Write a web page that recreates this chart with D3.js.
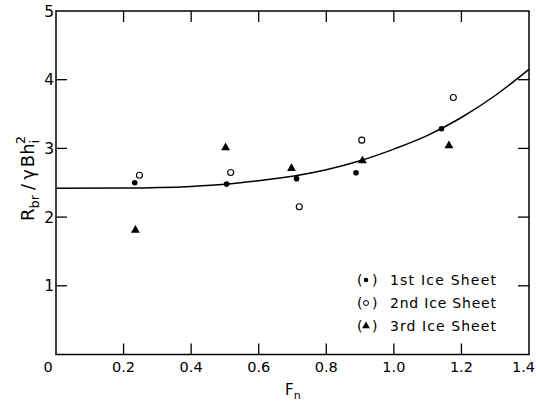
<!DOCTYPE html>
<html><head><meta charset="utf-8">
<script src="https://cdn.jsdelivr.net/npm/d3@7"></script>
<style>body{margin:0;background:#fff}svg{display:block}</style>
</head><body>
<script>
// Breaking resistance ratio versus Froude number, three ice sheets
const sheet1X = [0.233, 0.505, 0.712, 0.888, 1.141];
const sheet1Y = [2.50, 2.48, 2.56, 2.645, 3.285];
const sheet2X = [0.247, 0.517, 0.720, 0.905, 1.176];
const sheet2Y = [2.61, 2.65, 2.15, 3.12, 3.74];
const sheet3X = [0.235, 0.502, 0.697, 0.907, 1.163];
const sheet3Y = [1.81, 3.01, 2.71, 2.82, 3.04];
// fitted trend line
const curveX = [0, 0.2, 0.4, 0.5, 0.6, 0.7, 0.8, 0.9, 1.0, 1.1, 1.2, 1.3, 1.4];
const curveY = [2.42, 2.423, 2.447, 2.477, 2.53, 2.595, 2.69, 2.82, 2.99, 3.19, 3.45, 3.77, 4.15];
const xTicks = [0.2, 0.4, 0.6, 0.8, 1.0, 1.2, 1.4];
const xTickLabels = ["0.2", "0.4", "0.6", "0.8", "1.0", "1.2", "1.4"];
const yTicks = [1, 2, 3, 4, 5];
const legendLabels = ["1st Ice Sheet", "2nd Ice Sheet", "3rd Ice Sheet"];

(function draw() {
  const W = 536, H = 407;
  const svg = d3.select("body").append("svg").attr("width", W).attr("height", H);
  const FONT = "DejaVu Sans, Verdana, sans-serif";

  const x = d3.scaleLinear().domain([0, 1.4]).range([56, 529]);
  const y = d3.scaleLinear().domain([0, 5]).range([354.5, 11]);
  const x0 = x(0), x1 = x(1.4), y1 = y(5), y0 = y(0);
  const TL = 11;

  // frame
  svg.append("rect").attr("x", x0).attr("y", y1).attr("width", x1 - x0).attr("height", y0 - y1)
    .attr("fill", "none").attr("stroke", "#000").attr("stroke-width", 1.5);

  // inward ticks on all four sides
  const tickG = svg.append("g").attr("stroke", "#000").attr("stroke-width", 1.3);
  xTicks.slice(0, -1).forEach(t => {
    tickG.append("line").attr("x1", x(t)).attr("x2", x(t)).attr("y1", y0).attr("y2", y0 - TL);
    tickG.append("line").attr("x1", x(t)).attr("x2", x(t)).attr("y1", y1).attr("y2", y1 + TL);
  });
  yTicks.slice(0, -1).forEach(t => {
    tickG.append("line").attr("x1", x0).attr("x2", x0 + TL).attr("y1", y(t)).attr("y2", y(t));
    tickG.append("line").attr("x1", x1).attr("x2", x1 - TL).attr("y1", y(t)).attr("y2", y(t));
  });

  // tick labels
  const lab = svg.append("g").attr("font-family", FONT).attr("fill", "#000");
  xTicks.forEach((t, i) => {
    const last = i === xTicks.length - 1;
    lab.append("text").attr("x", last ? 535 : x(t)).attr("y", 372).attr("font-size", 14.5)
      .attr("text-anchor", last ? "end" : "middle").text(xTickLabels[i]);
  });
  lab.append("text").attr("x", 48).attr("y", 372).attr("font-size", 14.5).attr("text-anchor", "middle").text("0");
  yTicks.forEach(t => {
    lab.append("text").attr("x", 54).attr("y", y(t) + 5.5).attr("font-size", 15.5).attr("text-anchor", "end").text(String(t));
  });

  // axis titles
  const xt = svg.append("text").attr("x", 285).attr("y", 395).attr("font-family", FONT).attr("font-size", 15);
  xt.append("tspan").text("F");
  xt.append("tspan").attr("font-size", 11).attr("dy", 4).text("n");

  const yt = svg.append("text").attr("transform", "translate(34,221) rotate(-90)")
    .attr("font-family", FONT).attr("font-size", 18);
  yt.append("tspan").text("R");
  yt.append("tspan").attr("font-size", 13).attr("dy", 4.5).text("br");
  yt.append("tspan").attr("dx", 5).attr("dy", -4.5).text("/");
  yt.append("tspan").attr("dx", 4).text("\u03B3");
  yt.append("tspan").attr("dx", 2).text("Bh");
  yt.append("tspan").attr("font-size", 13).attr("dy", 4.5).text("i");
  yt.append("tspan").attr("font-size", 13).attr("dx", -4.5).attr("dy", -14).text("2");

  // trend curve
  const line = d3.line().x((d, i) => x(curveX[i])).y((d, i) => y(curveY[i])).curve(d3.curveMonotoneX);
  svg.append("path").datum(curveY).attr("d", line).attr("fill", "none").attr("stroke", "#000").attr("stroke-width", 1.5);

  // markers
  const tri = d3.symbol(d3.symbolTriangle, 34);
  svg.append("g").selectAll("circle").data(sheet1X).join("circle")
    .attr("cx", d => x(d)).attr("cy", (d, i) => y(sheet1Y[i])).attr("r", 2.8).attr("fill", "#000");
  svg.append("g").selectAll("circle").data(sheet2X).join("circle")
    .attr("cx", d => x(d)).attr("cy", (d, i) => y(sheet2Y[i])).attr("r", 3).attr("fill", "#fff")
    .attr("stroke", "#000").attr("stroke-width", 1.1);
  svg.append("g").selectAll("path").data(sheet3X).join("path")
    .attr("d", tri).attr("transform", (d, i) => `translate(${x(d)},${y(sheet3Y[i])})`).attr("fill", "#000");

  // legend
  const legY = [280, 303, 326];
  const leg = svg.append("g").attr("font-family", FONT).attr("font-size", 14);
  legendLabels.forEach((t, i) => {
    const cy = legY[i];
    leg.append("text").attr("x", 357).attr("y", cy + 5).text("(");
    leg.append("text").attr("x", 372).attr("y", cy + 5).text(")");
    leg.append("text").attr("x", 390).attr("y", cy + 5).attr("textLength", 106).attr("lengthAdjust", "spacing").text(t);
  });
  leg.append("circle").attr("cx", 366).attr("cy", legY[0]).attr("r", 2.3).attr("fill", "#000");
  leg.append("circle").attr("cx", 366).attr("cy", legY[1]).attr("r", 2.5).attr("fill", "none").attr("stroke", "#000").attr("stroke-width", 1);
  leg.append("path").attr("d", d3.symbol(d3.symbolTriangle, 26)).attr("transform", `translate(366,${legY[2]})`).attr("fill", "#000");
})();
</script>
</body></html>
